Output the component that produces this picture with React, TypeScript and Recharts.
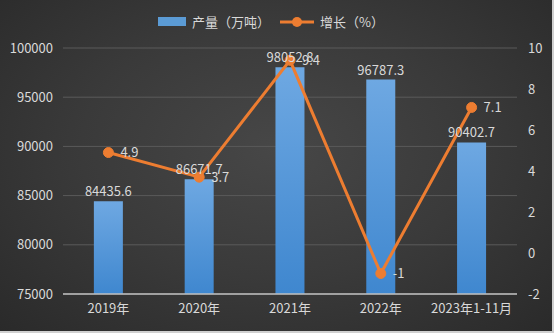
import React from "react";
import {
  ComposedChart,
  Bar,
  Line,
  XAxis,
  YAxis,
  CartesianGrid,
  Legend,
  LabelList,
} from "recharts";

const categories = ["2019年", "2020年", "2021年", "2022年", "2023年1-11月"];
const output = [84435.6, 86671.7, 98052.8, 96787.3, 90402.7];
const growth = [4.9, 3.7, 9.4, -1, 7.1];
const leftTicks = [75000, 80000, 85000, 90000, 95000, 100000];
const rightTicks = [-2, 0, 2, 4, 6, 8, 10];

const data = categories.map((name, i) => ({
  name,
  output: output[i],
  growth: growth[i],
}));

const FONT = "'Noto Sans CJK SC', 'Noto Sans', sans-serif";
const TEXT = "#d9d9d9";

const renderLegend = () => (
  <div
    style={{
      display: "flex",
      justifyContent: "center",
      alignItems: "center",
      fontFamily: FONT,
      fontSize: 13,
      color: TEXT,
      gap: 6,
      height: 19,
      marginLeft: -10,
    }}
  >
    <span style={{ display: "inline-block", width: 28, height: 9, background: "#5b9bd5" }} />
    <span>产量（万吨）</span>
    <svg width={34} height={12} style={{ marginLeft: 4 }}>
      <line x1={0} y1={6} x2={34} y2={6} stroke="#ed7d31" strokeWidth={3} />
      <circle cx={17} cy={6} r={5} fill="#ed7d31" />
    </svg>
    <span>增长（%）</span>
  </div>
);

export default function App() {
  return (
    <div style={{ position: "absolute", left: 0, top: 0, width: 554, height: 333, background: "#d0d0d0" }}>
      <div
        style={{
          width: 552,
          height: 331,
          background: "radial-gradient(ellipse at 50% 45%, #474747 0%, #3a3a3a 50%, #2a2a2a 100%)",
        }}
      >
        <ComposedChart
          width={552}
          height={331}
          data={data}
          margin={{ top: 29, right: 0, bottom: 0, left: 0 }}
          barCategoryGap="34%"
        >
          <defs>
            <linearGradient id="barGrad" x1="0" y1="0" x2="0" y2="1">
              <stop offset="0%" stopColor="#6ea8e2" />
              <stop offset="100%" stopColor="#3f87cf" />
            </linearGradient>
          </defs>
          <CartesianGrid yAxisId="left" vertical={false} stroke="#5a5a5a" strokeWidth={1} />
          <XAxis
            dataKey="name"
            height={37}
            axisLine={{ stroke: "#bfbfbf", strokeWidth: 1.5 }}
            tickLine={false}
            tickMargin={4}
            tick={{ fill: TEXT, fontSize: 13, fontFamily: FONT }}
            interval={0}
          />
          <YAxis
            yAxisId="left"
            orientation="left"
            width={63}
            domain={[75000, 100000]}
            ticks={leftTicks}
            axisLine={false}
            tickLine={false}
            tickMargin={4}
            tick={{ fill: TEXT, fontSize: 13, fontFamily: FONT }}
          />
          <YAxis
            yAxisId="right"
            orientation="right"
            width={35}
            domain={[-2, 10]}
            ticks={rightTicks}
            axisLine={false}
            tickLine={false}
            tickMargin={5}
            tick={{ fill: TEXT, fontSize: 13, fontFamily: FONT, textAnchor: "start" }}
          />
          <Legend
            verticalAlign="top"
            align="center"
            content={renderLegend}
            wrapperStyle={{ top: 12, left: 0, width: 552 }}
          />
          <Bar
            yAxisId="left"
            dataKey="output"
            fill="url(#barGrad)"
            isAnimationActive={false}
          >
            <LabelList
              dataKey="output"
              position="top"
              offset={5}
              fill={TEXT}
              fontSize={13}
              fontFamily={FONT}
            />
          </Bar>
          <Line
            yAxisId="right"
            dataKey="growth"
            stroke="#ed7d31"
            strokeWidth={3}
            dot={{ r: 5, fill: "#ed7d31", stroke: "#ed7d31", strokeWidth: 1 }}
            isAnimationActive={false}
          >
            <LabelList
              dataKey="growth"
              position="right"
              offset={12}
              fill={TEXT}
              fontSize={13}
              fontFamily={FONT}
            />
          </Line>
        </ComposedChart>
      </div>
    </div>
  );
}
